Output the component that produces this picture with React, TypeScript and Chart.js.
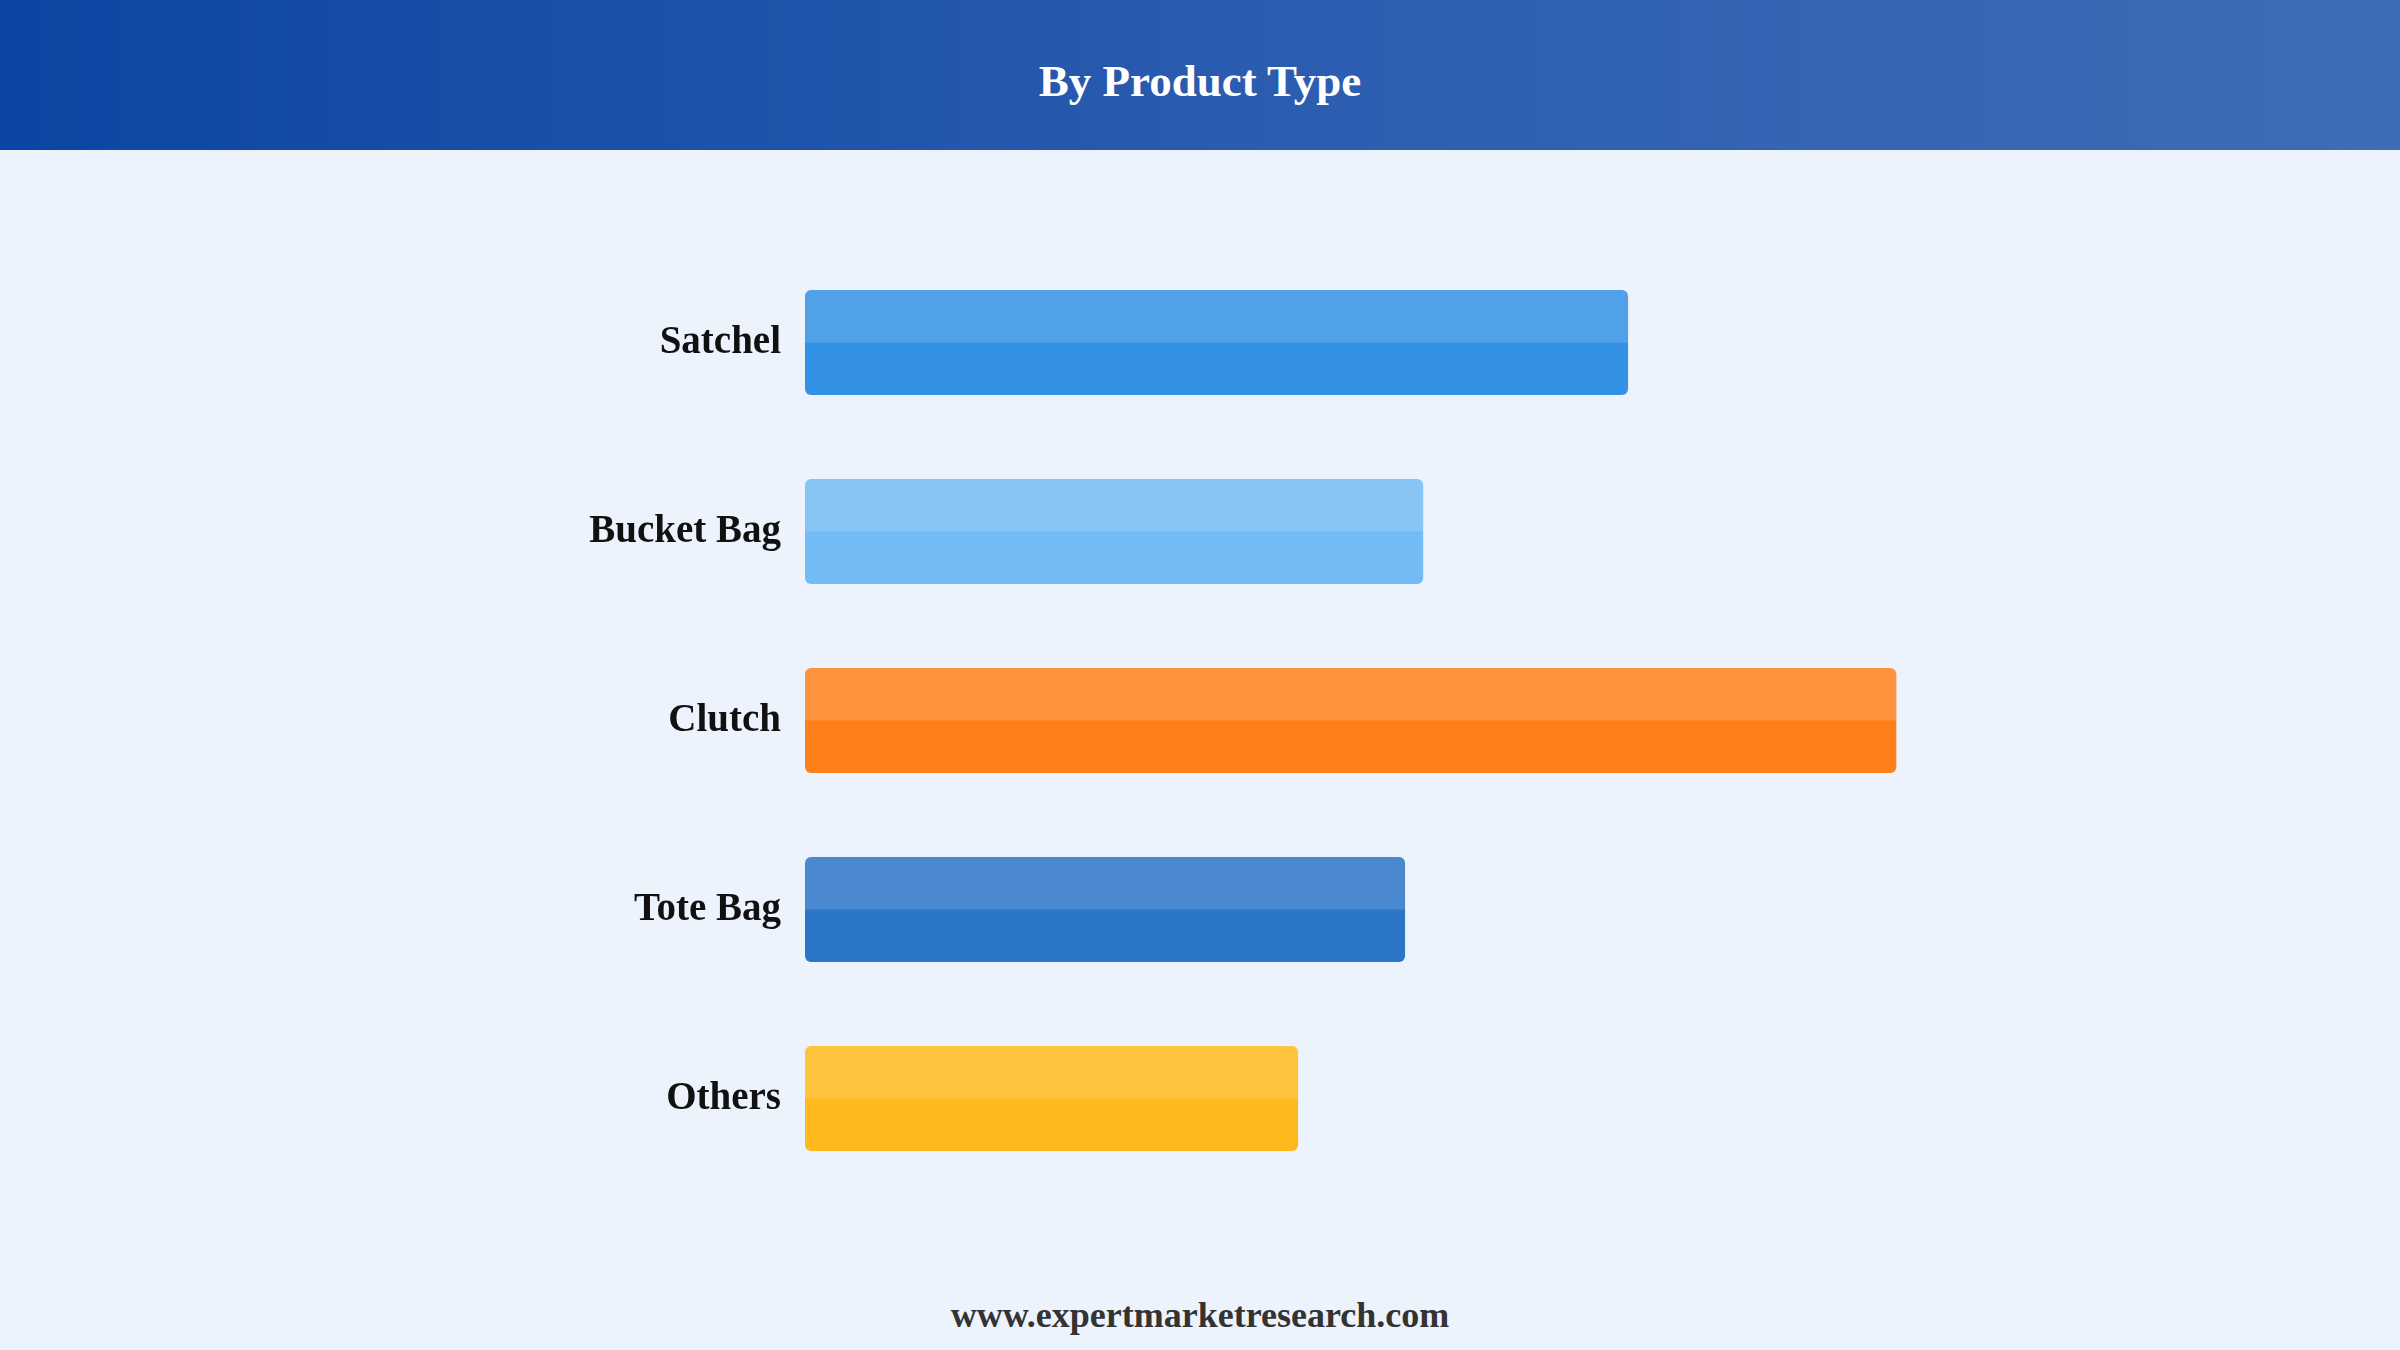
import React, { useEffect, useRef } from "react";
import { Chart, registerables } from "chart.js";

Chart.register(...registerables);

const TITLE = "By Product Type";
const FOOTER = "www.expertmarketresearch.com";
const categories = ["Satchel", "Bucket Bag", "Clutch", "Tote Bag", "Others"];
const shares = [22.7, 17.05, 30.1, 16.55, 13.6];
const barColors = ["#3391E6", "#72BBF5", "#FF7F1A", "#2B75C7", "#FEBA1D"];
const X_MAX = 35;

const highlightPlugin = {
  id: "topHighlight",
  afterDatasetsDraw(chart: any) {
    const ctx = chart.ctx;
    const meta = chart.getDatasetMeta(0);
    meta.data.forEach((bar: any) => {
      const { x, y, base, height } = bar.getProps(["x", "y", "base", "height"], true);
      const left = Math.min(x, base);
      const right = Math.max(x, base);
      const top = y - height / 2;
      const r = 6;
      const h = height / 2;
      ctx.save();
      ctx.beginPath();
      ctx.moveTo(left, top + h);
      ctx.lineTo(left, top + r);
      ctx.quadraticCurveTo(left, top, left + r, top);
      ctx.lineTo(right - r, top);
      ctx.quadraticCurveTo(right, top, right, top + r);
      ctx.lineTo(right, top + h);
      ctx.closePath();
      ctx.fillStyle = "rgba(255,255,255,0.15)";
      ctx.fill();
      ctx.restore();
    });
  },
};

export default function App() {
  const canvasRef = useRef<HTMLCanvasElement | null>(null);

  useEffect(() => {
    document.body.style.margin = "0";
    const canvas = canvasRef.current;
    if (!canvas) return;
    const chart = new Chart(canvas, {
      type: "bar",
      data: {
        labels: categories,
        datasets: [
          {
            data: shares,
            backgroundColor: barColors,
            borderRadius: 6,
            borderSkipped: false,
            barPercentage: 0.555,
            categoryPercentage: 1,
          },
        ],
      },
      options: {
        indexAxis: "y",
        animation: false,
        responsive: false,
        maintainAspectRatio: false,
        layout: { padding: { top: 98, bottom: 57, left: 0, right: 326 } },
        plugins: { legend: { display: false }, tooltip: { enabled: false }, title: { display: false } },
        scales: {
          x: { display: false, min: 0, max: X_MAX },
          y: {
            grid: { display: false, drawTicks: false },
            border: { display: false },
            ticks: {
              padding: 24,
              color: "#111111",
              font: { family: "'Liberation Serif', 'Times New Roman', serif", size: 39, weight: "bold" },
            },
            afterFit: (scale: any) => {
              scale.width = 805;
            },
          },
        },
      },
      plugins: [highlightPlugin],
    });
    return () => chart.destroy();
  }, []);

  return (
    <div style={{ position: "absolute", left: 0, top: 0, width: 2400, height: 1350, background: "#ECF3FC", overflow: "hidden" }}>
      <div
        style={{
          position: "absolute",
          left: 0,
          top: 0,
          width: 2400,
          height: 150,
          background: "linear-gradient(90deg, #0B45A3 0%, #2C5DB0 55%, #3E6DB5 100%)",
        }}
      >
        <div
          style={{
            position: "absolute",
            left: 0,
            top: 56,
            width: 2400,
            height: 50,
            lineHeight: "50px",
            textAlign: "center",
            color: "#ffffff",
            fontFamily: "'Liberation Serif', 'Times New Roman', serif",
            fontWeight: "bold",
            fontSize: 45,
          }}
        >
          {TITLE}
        </div>
      </div>
      <div style={{ position: "absolute", left: 0, top: 150, width: 2400, height: 1100 }}>
        <canvas ref={canvasRef} width={2400} height={1100} style={{ width: 2400, height: 1100, display: "block" }} />
      </div>
      <div
        style={{
          position: "absolute",
          left: 0,
          top: 1290,
          width: 2400,
          height: 50,
          lineHeight: "50px",
          textAlign: "center",
          color: "#333333",
          fontFamily: "'Liberation Serif', 'Times New Roman', serif",
          fontWeight: "bold",
          fontSize: 36,
        }}
      >
        {FOOTER}
      </div>
    </div>
  );
}
